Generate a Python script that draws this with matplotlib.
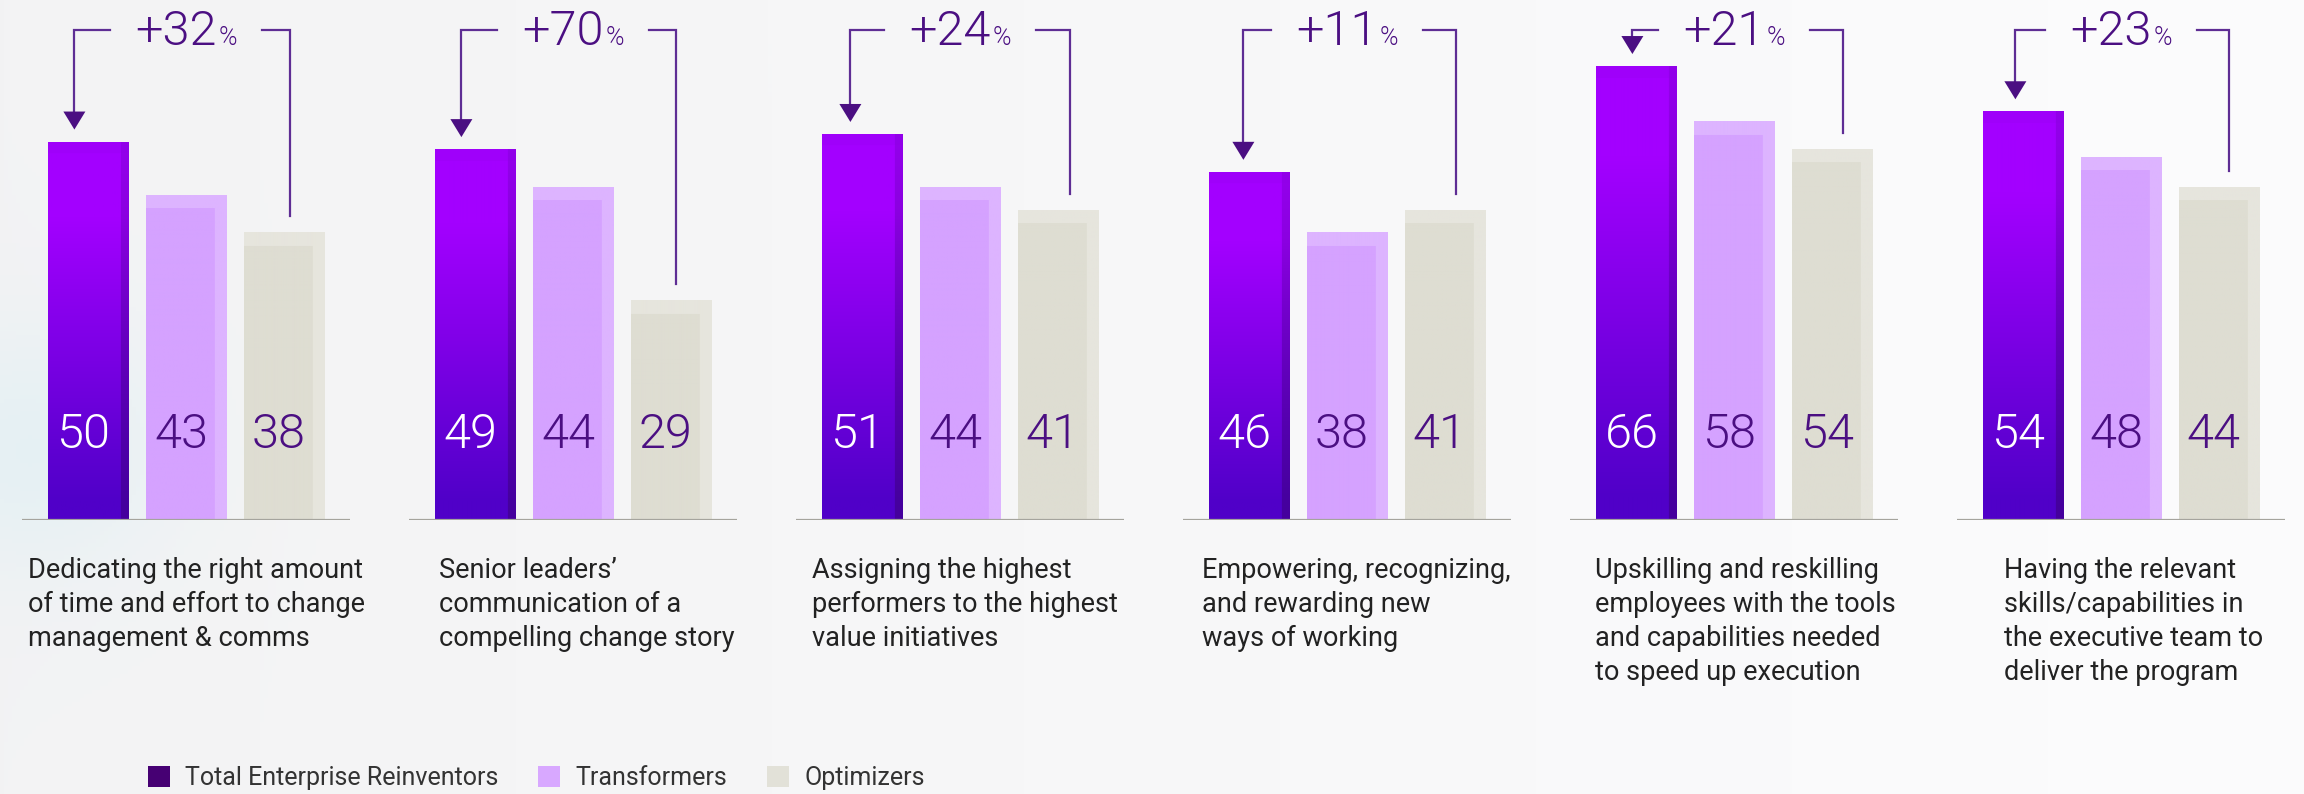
import numpy as np
import matplotlib
matplotlib.use("Agg")
import matplotlib.pyplot as plt
import matplotlib.transforms as mtransforms
from matplotlib.colors import to_rgb
from matplotlib.patches import Patch, Polygon
from matplotlib.offsetbox import TextArea, HPacker, AnnotationBbox

plt.rcParams['font.family'] = ['Roboto', 'DejaVu Sans']

# ---- data ----
categories = [
    "Dedicating the right amount\nof time and effort to change\nmanagement & comms",
    "Senior leaders\u2019\ncommunication of a\ncompelling change story",
    "Assigning the highest\nperformers to the highest\nvalue initiatives",
    "Empowering, recognizing,\nand rewarding new\nways of working",
    "Upskilling and reskilling\nemployees with the tools\nand capabilities needed\nto speed up execution",
    "Having the relevant\nskills/capabilities in\nthe executive team to\ndeliver the program",
]
series_names = ["Total Enterprise Reinventors", "Transformers", "Optimizers"]
reinventors = [50, 49, 51, 46, 66, 54]
transformers = [43, 44, 44, 38, 58, 48]
optimizers = [38, 29, 41, 41, 54, 44]
uplift = ["+32", "+70", "+24", "+11", "+21", "+23"]

# ---- layout (pixels of the 2304x794 canvas) ----
W, H, DPI = 2304, 794, 100
BASE_Y = 520          # baseline, px from top
GROUP_LEFT = 22       # left end of first baseline
GROUP_PITCH = 387
GROUP_W = 328
XLIM = (-0.68, 2.68)
BAR_W = 0.82
# the source chart draws the 5th group on a slightly compressed scale
y_top = [68.7, 68.7, 68.7, 68.7, 75.6, 68.7]
label_dx = [6, 30, 16, 19, 25, 47]       # label indent from baseline start, px
arrow_dx = [-14, -14, -12, -6, -4, -8]   # down-arrow offset from first bar centre, px
drop_dx = [6, 5, 12, 11, 11, 10]         # right leg offset from third bar centre, px

DARK = "#4B0F82"
LINE = "#5E2D94"
legend_colors = ["#460073", "#D8A8FF", "#E2E1D8"]


def lerp(a, b, t):
    a, b = np.array(to_rgb(a)), np.array(to_rgb(b))
    t = np.asarray(t)[..., None]
    return a * (1 - t) + b * t


def bar_image(kind, rows, cols=80):
    t = np.linspace(0, 1, rows)[:, None] * np.ones((1, cols))
    xs = np.ones((rows, 1)) * np.linspace(0, 1, cols)[None, :]
    if kind == 0:
        s = np.clip((t - 0.2) / 0.75, 0, 1)
        img = lerp("#A300FF", "#5000C8", s)
        strip = (xs > 0.9)
        w = (0.15 + 0.45 * t)[strip][:, None]
        img[strip] = img[strip] * (1 - w) + np.array(to_rgb("#3E0080")) * w
        top = t < min(1.0, 12.0 / rows)
        img[top] = img[top] * 0.85 + np.array(to_rgb("#8A00E0")) * 0.15
    elif kind == 1:
        img = lerp("#D5A2FF", "#D5A2FF", t)
        band = (t < min(1.0, 14.0 / rows)) | (xs > 0.86)
        img[band] = np.array(to_rgb("#DDB4FF"))
    else:
        img = lerp("#DEDDD2", "#DEDDD2", t)
        band = (t < min(1.0, 14.0 / rows)) | (xs > 0.86)
        img[band] = np.array(to_rgb("#E6E5DD"))
    return img


fig = plt.figure(figsize=(W / DPI, H / DPI), dpi=DPI)
fig.patch.set_facecolor("#F8F8F8")

# soft background wash
bg = fig.add_axes([0, 0, 1, 1], zorder=-10)
yy, xx = np.mgrid[0:H:4, 0:W:4]
base = lerp("#F3F3F4", "#FCFCFD", xx / W)
glow = np.exp(-(((xx - 30) / 150.0) ** 2 + ((yy - 450) / 130.0) ** 2))
tint = np.array(to_rgb("#DDEFF3"))
base = base * (1 - 0.6 * glow[..., None]) + tint * 0.6 * glow[..., None]
bg.imshow(base, extent=(0, W, H, 0), aspect="auto")
bg.set_axis_off()

axes = []
for i in range(len(categories)):
    left = (GROUP_LEFT + GROUP_PITCH * i) / W
    ax = fig.add_axes([left, (H - BASE_Y) / H, GROUP_W / W, BASE_Y / H])
    ax.set_xlim(*XLIM)
    ax.set_ylim(0, y_top[i])
    ax.set_facecolor("none")
    ax.set_axis_off()
    axes.append(ax)

fig.canvas.draw()
renderer = fig.canvas.get_renderer()

for i, ax in enumerate(axes):
    vals = [reinventors[i], transformers[i], optimizers[i]]
    ppu = BASE_Y / y_top[i]              # px per value unit
    xpu = GROUP_W / (XLIM[1] - XLIM[0])  # px per x unit
    blend = mtransforms.blended_transform_factory(ax.transData, ax.transAxes)

    bars = ax.bar(range(3), vals, width=BAR_W, color=legend_colors, zorder=2)
    for k, b in enumerate(bars):
        rows = max(int(round(b.get_height() * ppu)), 2)
        im = ax.imshow(bar_image(k, rows),
                       extent=(b.get_x(), b.get_x() + b.get_width(), 0, b.get_height()),
                       aspect="auto", zorder=3, interpolation="bilinear")
        im.set_clip_path(b)
    ax.set_xlim(*XLIM)
    ax.set_ylim(0, y_top[i])

    ax.axhline(0, color="#A5A49D", lw=1.6, zorder=4)

    for k, v in enumerate(vals):
        ax.text(k - 0.05, 85 / BASE_Y, str(v), transform=blend, ha="center", va="center",
                fontsize=35, fontweight=300, color="white" if k == 0 else DARK, zorder=5)

    # bracket with the uplift
    y_br = (BASE_Y - 30) / ppu
    pack = HPacker(children=[TextArea(uplift[i], textprops=dict(fontsize=35, fontweight=300, color=DARK)),
                             TextArea("%", textprops=dict(fontsize=18, fontweight=300, color=DARK))],
                   align="baseline", pad=0, sep=1)
    ab = AnnotationBbox(pack, (1.0, y_br - 2 / ppu), xycoords="data", box_alignment=(0.5, 0.5),
                        frameon=False, annotation_clip=False, zorder=6)
    ax.add_artist(ab)
    ext = ab.get_window_extent(renderer)
    inv = ax.transData.inverted()
    tx0 = inv.transform((ext.x0, ext.y0))[0] - 20 / xpu
    tx1 = inv.transform((ext.x1, ext.y0))[0] + 20 / xpu

    ax_l = 0 + arrow_dx[i] / xpu
    ax_r = 2 + drop_dx[i] / xpu
    tip = vals[0] + 12 / ppu
    head_h = 18 / ppu
    head_w = 11 / xpu
    ax.plot([tx0, ax_l, ax_l], [y_br, y_br, tip + head_h * 0.9], color=LINE, lw=1.6,
            solid_joinstyle="miter", clip_on=False, zorder=6)
    ax.add_patch(Polygon([(ax_l - head_w, tip + head_h), (ax_l + head_w, tip + head_h), (ax_l, tip)],
                         closed=True, fc=DARK, ec="none", clip_on=False, zorder=6))
    ax.plot([tx1, ax_r, ax_r], [y_br, y_br, vals[2] + 16 / ppu], color=LINE, lw=1.6,
            solid_joinstyle="miter", clip_on=False, zorder=6)

    ax.text(XLIM[0] + label_dx[i] / xpu, (BASE_Y - 557) / BASE_Y, categories[i], transform=blend,
            ha="left", va="top", fontsize=19.5, color="#222222", linespacing=1.34)

handles = [Patch(facecolor=c, edgecolor="none") for c in legend_colors]
leg = fig.legend(handles, series_names, loc="center left", bbox_to_anchor=(148 / W, (H - 778) / H),
                 ncol=3, frameon=False, fontsize=18, handlelength=0.88, handleheight=0.88,
                 handletextpad=0.6, columnspacing=1.6, borderpad=0, borderaxespad=0)
for t in leg.get_texts():
    t.set_color("#333333")

fig.savefig("out.png", dpi=DPI, facecolor=fig.get_facecolor())
